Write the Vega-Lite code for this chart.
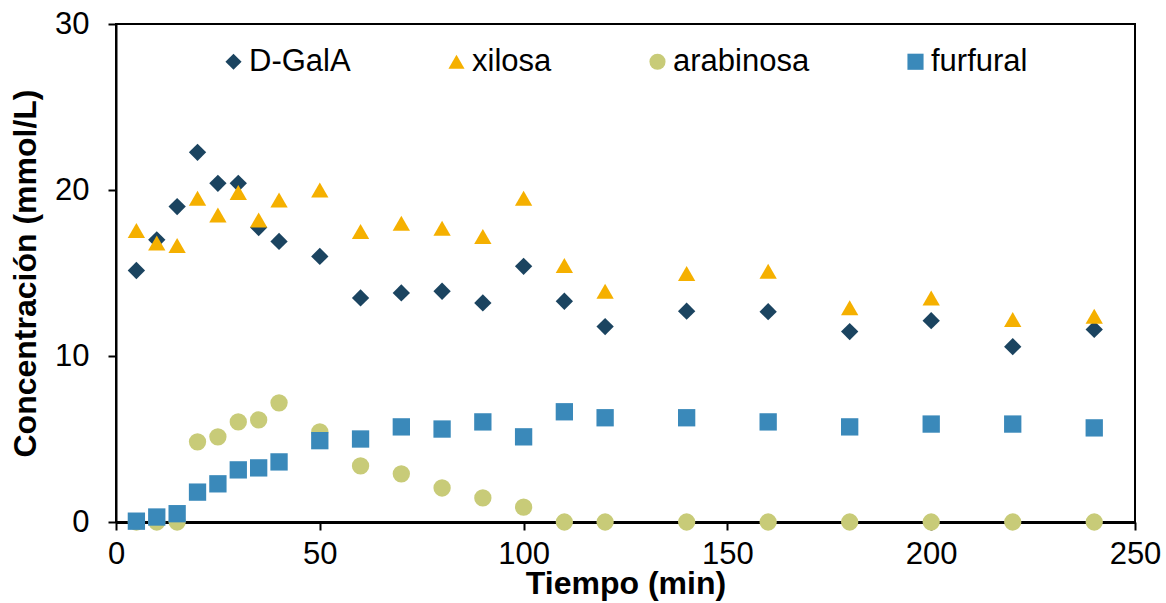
{
  "$schema": "https://vega.github.io/schema/vega-lite/v6.json",
  "width": 1019,
  "height": 498,
  "autosize": {"type": "none"},
  "padding": {"left": 116, "top": 24, "right": 31, "bottom": 81},
  "config": {
    "font": "Liberation Sans",
    "view": {"stroke": "#000000", "strokeWidth": 2},
    "axis": {"grid": false}
  },
  "data": {
    "values": [
      {"t": 5, "serie": "D-GalA", "c": 15.15},
      {"t": 10, "serie": "D-GalA", "c": 17.0},
      {"t": 15, "serie": "D-GalA", "c": 19.0},
      {"t": 20, "serie": "D-GalA", "c": 22.27},
      {"t": 25, "serie": "D-GalA", "c": 20.4},
      {"t": 30, "serie": "D-GalA", "c": 20.4},
      {"t": 35, "serie": "D-GalA", "c": 17.74},
      {"t": 40, "serie": "D-GalA", "c": 16.9},
      {"t": 50, "serie": "D-GalA", "c": 16.0},
      {"t": 60, "serie": "D-GalA", "c": 13.5},
      {"t": 70, "serie": "D-GalA", "c": 13.8},
      {"t": 80, "serie": "D-GalA", "c": 13.9},
      {"t": 90, "serie": "D-GalA", "c": 13.2},
      {"t": 100, "serie": "D-GalA", "c": 15.4},
      {"t": 110, "serie": "D-GalA", "c": 13.3},
      {"t": 120, "serie": "D-GalA", "c": 11.77},
      {"t": 140, "serie": "D-GalA", "c": 12.7},
      {"t": 160, "serie": "D-GalA", "c": 12.67},
      {"t": 180, "serie": "D-GalA", "c": 11.47},
      {"t": 200, "serie": "D-GalA", "c": 12.13},
      {"t": 220, "serie": "D-GalA", "c": 10.56},
      {"t": 240, "serie": "D-GalA", "c": 11.6},
      {"t": 5, "serie": "xilosa", "c": 17.56},
      {"t": 10, "serie": "xilosa", "c": 16.8},
      {"t": 15, "serie": "xilosa", "c": 16.66},
      {"t": 20, "serie": "xilosa", "c": 19.5},
      {"t": 25, "serie": "xilosa", "c": 18.5},
      {"t": 30, "serie": "xilosa", "c": 19.85},
      {"t": 35, "serie": "xilosa", "c": 18.2},
      {"t": 40, "serie": "xilosa", "c": 19.4},
      {"t": 50, "serie": "xilosa", "c": 20.0},
      {"t": 60, "serie": "xilosa", "c": 17.5},
      {"t": 70, "serie": "xilosa", "c": 18.0},
      {"t": 80, "serie": "xilosa", "c": 17.7},
      {"t": 90, "serie": "xilosa", "c": 17.2},
      {"t": 100, "serie": "xilosa", "c": 19.5},
      {"t": 110, "serie": "xilosa", "c": 15.45},
      {"t": 120, "serie": "xilosa", "c": 13.9},
      {"t": 140, "serie": "xilosa", "c": 14.97},
      {"t": 160, "serie": "xilosa", "c": 15.1},
      {"t": 180, "serie": "xilosa", "c": 12.9},
      {"t": 200, "serie": "xilosa", "c": 13.5},
      {"t": 220, "serie": "xilosa", "c": 12.2},
      {"t": 240, "serie": "xilosa", "c": 12.4},
      {"t": 5, "serie": "arabinosa", "c": 0},
      {"t": 10, "serie": "arabinosa", "c": 0},
      {"t": 15, "serie": "arabinosa", "c": 0},
      {"t": 20, "serie": "arabinosa", "c": 4.83},
      {"t": 25, "serie": "arabinosa", "c": 5.13},
      {"t": 30, "serie": "arabinosa", "c": 6.03},
      {"t": 35, "serie": "arabinosa", "c": 6.15},
      {"t": 40, "serie": "arabinosa", "c": 7.18},
      {"t": 50, "serie": "arabinosa", "c": 5.43},
      {"t": 60, "serie": "arabinosa", "c": 3.38},
      {"t": 70, "serie": "arabinosa", "c": 2.9},
      {"t": 80, "serie": "arabinosa", "c": 2.05},
      {"t": 90, "serie": "arabinosa", "c": 1.45},
      {"t": 100, "serie": "arabinosa", "c": 0.9},
      {"t": 110, "serie": "arabinosa", "c": 0},
      {"t": 120, "serie": "arabinosa", "c": 0},
      {"t": 140, "serie": "arabinosa", "c": 0},
      {"t": 160, "serie": "arabinosa", "c": 0},
      {"t": 180, "serie": "arabinosa", "c": 0},
      {"t": 200, "serie": "arabinosa", "c": 0},
      {"t": 220, "serie": "arabinosa", "c": 0},
      {"t": 240, "serie": "arabinosa", "c": 0},
      {"t": 5, "serie": "furfural", "c": 0.05},
      {"t": 10, "serie": "furfural", "c": 0.3},
      {"t": 15, "serie": "furfural", "c": 0.5},
      {"t": 20, "serie": "furfural", "c": 1.8},
      {"t": 25, "serie": "furfural", "c": 2.3},
      {"t": 30, "serie": "furfural", "c": 3.14},
      {"t": 35, "serie": "furfural", "c": 3.26},
      {"t": 40, "serie": "furfural", "c": 3.62},
      {"t": 50, "serie": "furfural", "c": 4.9},
      {"t": 60, "serie": "furfural", "c": 5.0},
      {"t": 70, "serie": "furfural", "c": 5.73},
      {"t": 80, "serie": "furfural", "c": 5.6},
      {"t": 90, "serie": "furfural", "c": 6.03},
      {"t": 100, "serie": "furfural", "c": 5.13},
      {"t": 110, "serie": "furfural", "c": 6.64},
      {"t": 120, "serie": "furfural", "c": 6.28},
      {"t": 140, "serie": "furfural", "c": 6.28},
      {"t": 160, "serie": "furfural", "c": 6.03},
      {"t": 180, "serie": "furfural", "c": 5.73},
      {"t": 200, "serie": "furfural", "c": 5.9},
      {"t": 220, "serie": "furfural", "c": 5.9},
      {"t": 240, "serie": "furfural", "c": 5.67}
    ]
  },
  "mark": {"type": "point", "filled": true, "opacity": 1, "size": 300},
  "encoding": {
    "x": {
      "field": "t", "type": "quantitative",
      "scale": {"domain": [0, 250], "nice": false},
      "axis": {
        "values": [0, 50, 100, 150, 200, 250],
        "title": "Tiempo (min)",
        "titleFontSize": 32, "titleFontWeight": "bold", "titleColor": "#000000",
        "titlePadding": -1,
        "labelFontSize": 31, "labelColor": "#000000", "labelPadding": 9,
        "labelFlush": false, "labelOverlap": false,
        "domainColor": "#000000", "domainWidth": 3,
        "tickColor": "#000000", "tickWidth": 2, "tickSize": 8
      }
    },
    "y": {
      "field": "c", "type": "quantitative",
      "scale": {"domain": [0, 30], "nice": false},
      "axis": {
        "values": [0, 10, 20, 30],
        "title": "Concentración (mmol/L)",
        "titleFontSize": 32, "titleFontWeight": "bold", "titleColor": "#000000",
        "titlePadding": 12,
        "labelFontSize": 31, "labelColor": "#000000", "labelPadding": 19,
        "labelFlush": false, "labelOverlap": false,
        "domainColor": "#000000", "domainWidth": 2,
        "tickColor": "#000000", "tickWidth": 2, "tickSize": 8
      }
    },
    "color": {
      "field": "serie", "type": "nominal",
      "scale": {
        "domain": ["D-GalA", "xilosa", "arabinosa", "furfural"],
        "range": ["#1B4460", "#F5B000", "#C8CB78", "#3A89BA"]
      },
      "legend": {
        "title": null,
        "orient": "none",
        "direction": "horizontal",
        "legendX": 102,
        "legendY": 22,
        "labelFontSize": 31,
        "labelColor": "#000000",
        "labelOffset": 0,
        "symbolSize": 260,
        "columnPadding": 90,
        "padding": 0
      }
    },
    "shape": {
      "field": "serie", "type": "nominal",
      "scale": {
        "domain": ["D-GalA", "xilosa", "arabinosa", "furfural"],
        "range": ["diamond", "triangle-up", "circle", "square"]
      }
    }
  }
}
